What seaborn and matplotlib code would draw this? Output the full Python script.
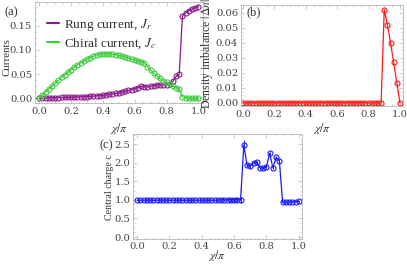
import matplotlib
matplotlib.use("Agg")
import matplotlib.pyplot as plt
import pandas as pd
import seaborn as sns
from matplotlib.lines import Line2D
from matplotlib.ticker import MultipleLocator, FormatStrFormatter

# --- data (chi/pi grid, step 0.02) ---
chi = [round(0.02 * i, 2) for i in range(51)]

rung_current = [
    0.000, 0.0003, 0.0005, 0.0007, 0.001, 0.0012, 0.0014, 0.0016, 0.0018, 0.002,
    0.0022, 0.0025, 0.0028, 0.003, 0.0033, 0.0036, 0.004, 0.0045, 0.005, 0.0055,
    0.006, 0.007, 0.008, 0.009, 0.010, 0.011, 0.013, 0.014, 0.016, 0.018,
    0.020, 0.022, 0.025, 0.024, 0.023, 0.025, 0.026, 0.027, 0.028, 0.028,
    0.028, 0.030, 0.035, 0.045, 0.050, 0.170, 0.176, 0.181, 0.184, 0.187,
    0.189,
]

chiral_current = [
    0.000, 0.007, 0.013, 0.019, 0.025, 0.031, 0.037, 0.043, 0.049, 0.054,
    0.059, 0.064, 0.069, 0.073, 0.077, 0.081, 0.084, 0.087, 0.089, 0.091,
    0.092, 0.092, 0.092, 0.091, 0.090, 0.089, 0.087, 0.085, 0.083, 0.081,
    0.079, 0.077, 0.075, 0.073, 0.065, 0.058, 0.052, 0.046, 0.041, 0.036,
    0.033, 0.029, 0.026, 0.022, 0.019, 0.003, 0.001, 0.000, 0.000, 0.000,
    0.000,
]

density_imbalance = [0.0] * 45 + [0.062, 0.052, 0.040, 0.027, 0.0135, 0.0]

central_charge = [
    0.99, 0.99, 0.99, 0.99, 0.99, 0.99, 0.99, 0.99, 0.99, 0.99,
    0.99, 0.99, 0.99, 0.99, 0.99, 0.99, 0.99, 0.99, 0.99, 0.99,
    0.99, 0.99, 0.99, 0.99, 0.99, 0.99, 1.00, 1.00, 1.00, 1.00,
    1.00, 1.00, 1.00, 2.47, 1.93, 1.91, 2.00, 2.02, 1.86, 1.86,
    1.89, 2.25, 1.86, 2.14, 2.05, 0.93, 0.94, 0.94, 0.95, 0.95,
    0.96,
]

central_charge_err = (
    [0.0] * 26
    + [0.02, 0.03, 0.04, 0.05, 0.06, 0.07, 0.08, 0.15, 0.04, 0.04,
       0.03, 0.03, 0.03, 0.03, 0.03, 0.05, 0.04, 0.05, 0.05, 0.02,
       0.01, 0.01, 0.01, 0.01, 0.01]
)

df = pd.DataFrame({
    "chi": chi,
    "rung": rung_current,
    "chiral": chiral_current,
    "dn": density_imbalance,
    "c": central_charge,
    "c_err": central_charge_err,
})

# --- style ---
sns.set_theme(style="ticks")
plt.rcParams["font.family"] = ["Liberation Serif", "DejaVu Serif"]
plt.rcParams["mathtext.fontset"] = "stix"
plt.rcParams["axes.edgecolor"] = "#b5b5b5"
plt.rcParams["xtick.color"] = "#b5b5b5"
plt.rcParams["ytick.color"] = "#b5b5b5"
plt.rcParams["xtick.labelcolor"] = "#444444"
plt.rcParams["ytick.labelcolor"] = "#444444"

PURPLE = "#8b1a8b"
GREEN = "#3dcc3d"
RED = "#ff1a1a"
BLUE = "#1a1aff"

TFS = 7.2      # tick labels
TXT = "#333333"


def frame(ax, xpad, xlabel_y):
    for s in ax.spines.values():
        s.set_linewidth(0.6)
    ax.xaxis.set_major_locator(MultipleLocator(0.2))
    ax.xaxis.set_minor_locator(MultipleLocator(0.05))
    ax.xaxis.set_major_formatter(FormatStrFormatter("%.1f"))
    ax.tick_params(which="both", direction="in", top=True, right=True,
                   labelsize=TFS, labelfontfamily="DejaVu Serif")
    ax.tick_params(which="major", length=3, width=0.5)
    ax.tick_params(which="minor", length=1.5, width=0.4)
    ax.tick_params(axis="y", pad=2)
    ax.tick_params(axis="x", pad=xpad)
    ax.set_xlabel(r"$\chi/\pi$", fontsize=8.5, color=TXT, va="top")
    ax.xaxis.set_label_coords(0.5, xlabel_y)


def series(ax, y, color):
    sns.lineplot(data=df, x="chi", y=y, ax=ax, color=color, lw=0.9,
                 marker="o", markersize=3.6, markerfacecolor="none",
                 markeredgecolor=color, markeredgewidth=0.8)


fig = plt.figure(figsize=(4.07, 2.66), dpi=100)
ax_a = fig.add_axes([0.086, 0.613, 0.413, 0.380])
ax_b = fig.add_axes([0.592, 0.602, 0.398, 0.380])
ax_c = fig.add_axes([0.327, 0.102, 0.415, 0.394])

# (a)
series(ax_a, "rung", PURPLE)
series(ax_a, "chiral", GREEN)
ax_a.set_xlim(-0.027, 1.03)
ax_a.set_ylim(-0.0097, 0.199)
ax_a.yaxis.set_major_locator(MultipleLocator(0.05))
ax_a.yaxis.set_minor_locator(MultipleLocator(0.0125))
ax_a.yaxis.set_major_formatter(FormatStrFormatter("%.2f"))
frame(ax_a, xpad=3, xlabel_y=-0.175)
ax_a.set_ylabel("Currents", fontsize=7.8, color=TXT)
ax_a.yaxis.set_label_coords(-0.14, 0.45)
handles = [Line2D([], [], color=PURPLE, lw=1.5), Line2D([], [], color=GREEN, lw=1.5)]
ax_a.legend(handles, [r"Rung current, $J_r$", r"Chiral current, $J_c$"],
            loc="upper left", bbox_to_anchor=(0.0, 0.97), frameon=False,
            fontsize=9.5, handlelength=0.9, handletextpad=0.4, labelspacing=0.3,
            labelcolor=TXT)
fig.text(0.012, 0.955, "(a)", fontsize=9, color=TXT, va="center")

# (b)
series(ax_b, "dn", RED)
ax_b.set_xlim(-0.013, 1.019)
ax_b.set_ylim(-0.002, 0.0653)
ax_b.yaxis.set_major_locator(MultipleLocator(0.01))
ax_b.yaxis.set_minor_locator(MultipleLocator(0.0025))
ax_b.yaxis.set_major_formatter(FormatStrFormatter("%.2f"))
frame(ax_b, xpad=3, xlabel_y=-0.145)
ax_b.set_ylabel(r"Density imbalance $|\Delta n|$", fontsize=8.5, color=TXT)
ax_b.yaxis.set_label_coords(-0.16, 0.52)
ax_b.text(0.035, 0.93, "(b)", transform=ax_b.transAxes, fontsize=9,
          color=TXT, va="center")

# (c)
ax_c.errorbar(df["chi"], df["c"], yerr=df["c_err"], fmt="none",
              ecolor=BLUE, elinewidth=0.7, capsize=0)
series(ax_c, "c", BLUE)
ax_c.set_xlim(-0.025, 1.02)
ax_c.set_ylim(-0.05, 2.77)
ax_c.yaxis.set_major_locator(MultipleLocator(0.5))
ax_c.yaxis.set_minor_locator(MultipleLocator(0.125))
ax_c.yaxis.set_major_formatter(FormatStrFormatter("%.1f"))
frame(ax_c, xpad=2, xlabel_y=-0.09)
ax_c.set_ylabel("Central charge c", fontsize=7.2, color=TXT)
ax_c.yaxis.set_label_coords(-0.115, 0.49)
fig.text(0.245, 0.452, "(c)", fontsize=9, color=TXT, va="center")

fig.savefig("out.png", dpi=100)
